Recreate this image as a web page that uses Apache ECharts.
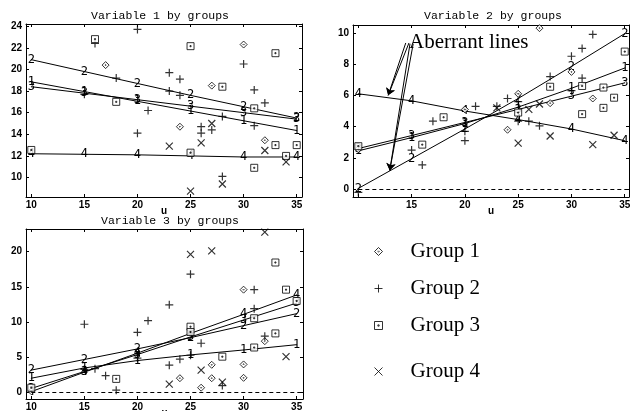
<!DOCTYPE html>
<html>
<head>
<meta charset="utf-8">
<script src="https://cdn.jsdelivr.net/npm/echarts@6/dist/echarts.min.js"></script>
<style>
html, body { margin: 0; background: #fff; }
#chart { width: 631px; height: 411px; }
</style>
</head>
<body>
<div id="chart"></div>
<script>
const groups = ['Group 1', 'Group 2', 'Group 3', 'Group 4']

// x positions where the fitted curves carry their group number
const fitX = [10, 15, 20, 25, 30, 35]

// tick values
const xTicks = [10, 15, 20, 25, 30, 35]
const xTicksV2 = [15, 20, 25, 30, 35]
const yTicksV1 = [10, 12, 14, 16, 18, 20, 22, 24]
const yTicksV2 = [0, 2, 4, 6, 8, 10]
const yTicksV3 = [0, 5, 10, 15, 20]

// Variable 1
const v1g1 = [[17, 20.4], [30, 22.3], [27, 18.5], [24, 14.7], [32, 13.45]]
const v1g2 = [[16, 22.4], [20, 23.7], [18, 19.2], [15, 17.7], [21, 16.2], [20, 14.1], [30, 20.5], [23, 19.7], [24, 19.1],
  [31, 18.1], [32, 16.9], [23, 18.0], [24, 17.6], [28, 15.65], [31, 14.8], [26, 14.7], [26, 14.1], [27, 14.4], [28, 10.1]]
const v1g3 = [[16, 22.8], [18, 17.0], [10, 12.55], [25, 22.15], [33, 21.5], [28, 18.4], [31, 16.4], [33, 13.0], [35, 13.0],
  [34, 12.0], [31, 10.9], [25, 12.3]]
const v1g4 = [[27, 15.0], [23, 12.9], [26, 13.2], [32, 12.5], [34, 11.45], [28, 9.4], [25, 8.75]]
const v1fit1 = [18.85, 17.95, 17.05, 16.15, 15.25, 14.35]
const v1fit2 = [20.9, 19.8, 18.7, 17.6, 16.55, 15.5]
const v1fit3 = [18.4, 17.8, 17.2, 16.6, 16.0, 15.4]
const v1fit4 = [12.2, 12.15, 12.1, 12.0, 11.9, 11.9]

// Variable 2
const v2g1 = [[27, 10.3], [30, 7.5], [32, 5.8], [24, 3.8], [25, 6.1], [10, 2.55], [20, 5.1], [28, 5.5]]
const v2g2 = [[32, 9.9], [31, 9.0], [30, 8.5], [28, 7.2], [31, 7.1], [30, 6.3], [24, 5.8], [25, 5.6], [26, 4.35], [27, 4.05],
  [25, 4.35], [21, 5.3], [20, 3.7], [20, 3.1], [17, 4.35], [15, 2.5], [16, 1.55], [10, -0.2], [23, 5.3]]
const v2g3 = [[35, 8.8], [28, 6.55], [31, 6.6], [33, 6.5], [34, 5.85], [33, 5.2], [31, 4.8], [25, 4.9], [18, 4.6], [16, 2.85], [10, 2.75]]
const v2g4 = [[25, 2.95], [28, 3.4], [32, 2.85], [34, 3.45], [26, 5.1], [27, 5.45], [23, 5.2]]
const v2fit1 = [2.45, 3.3, 4.2, 5.25, 6.45, 7.75]
const v2fit2 = [0.05, 1.95, 3.85, 5.8, 7.85, 9.95]
const v2fit3 = [2.6, 3.43, 4.27, 5.1, 5.95, 6.8]
const v2fit4 = [6.1, 5.65, 5.0, 4.45, 3.85, 3.1]

// Variable 3
const v3g1 = [[30, 14.6], [27, 3.95], [30, 4.0], [24, 2.05], [27, 2.05], [30, 2.1], [26, 0.7], [10, 0.2], [32, 7.3]]
const v3g2 = [[15, 9.7], [21, 10.2], [20, 8.55], [17, 2.4], [18, 0.35], [23, 12.45], [25, 16.8], [31, 14.6], [31, 11.9],
  [32, 8.0], [26, 7.0], [25, 5.3], [24, 4.75], [23, 3.9], [28, 1.0], [20, 4.9], [15, 3.3], [16, 3.4]]
const v3g3 = [[10, 0.7], [18, 1.95], [33, 18.45], [34, 14.6], [35, 13.0], [31, 10.55], [25, 9.35], [25, 8.6], [33, 8.4],
  [31, 6.4], [28, 5.1]]
const v3g4 = [[32, 22.75], [25, 19.6], [27, 20.1], [34, 5.1], [26, 3.2], [23, 1.2], [28, 1.5]]
const v3fit1 = [2.05, 3.5, 4.55, 5.35, 6.05, 6.8]
const v3fit2 = [3.2, 4.7, 6.2, 7.8, 9.5, 11.2]
const v3fit3 = [0.6, 3.0, 5.4, 7.9, 10.3, 12.7]
const v3fit4 = [0.15, 2.9, 5.6, 8.4, 11.1, 13.85]

// "Aberrant lines" arrows, in Variable 2 coordinates: [start, tip, curveness]
const arrows = [
  [[14.45, 9.35], [12.8, 6.0], 0.14],
  [[14.75, 9.35], [12.8, 6.0], 0.12],
  [[14.85, 9.3], [12.95, 1.2], 0.04],
  [[15.15, 9.3], [12.95, 1.2], 0.03]
]

const panels = [
  { grid: { left: 26, top: 24, width: 276, height: 173 }, x: [9.5, 35.5], y: [8.2, 24.2], xLabels: xTicks, yTicks: yTicksV1,
    data: [v1g1, v1g2, v1g3, v1g4], fits: [v1fit1, v1fit2, v1fit3, v1fit4], zero: false },
  { grid: { left: 353, top: 25, width: 276, height: 172 }, x: [9.5, 35.4], y: [-0.5, 10.5], xLabels: xTicksV2, yTicks: yTicksV2,
    data: [v2g1, v2g2, v2g3, v2g4], fits: [v2fit1, v2fit2, v2fit3, v2fit4], zero: true },
  { grid: { left: 26, top: 229, width: 277, height: 170 }, x: [9.5, 35.6], y: [-0.9, 23.2], xLabels: xTicks, yTicks: yTicksV3,
    data: [v3g1, v3g2, v3g3, v3g4], fits: [v3fit1, v3fit2, v3fit3, v3fit4], zero: true }
]

const symbols = [
  'path://M5,0L10,5L5,10L0,5Z M5,4.2L5.8,5L5,5.8L4.2,5Z',
  'path://M0,5L10,5M5,0L5,10',
  'path://M0,0H10V10H0Z M4.2,4.2H5.8V5.8H4.2Z',
  'path://M0,0L10,10M10,0L0,10'
]
const symbolSizes = [7, 8, 7, 7]
const hollow = { color: '#fff', borderColor: '#000', borderWidth: 1 }
const strokes = { color: 'rgba(0,0,0,0)', borderColor: '#000', borderWidth: 1.2 }
const symbolStyles = [hollow, strokes, hollow, strokes]

const tickFont = { fontFamily: 'Liberation Sans', fontSize: 10, fontWeight: 'bold', color: '#000' }
const axisLine = { show: true, onZero: false, lineStyle: { color: '#000', width: 1 } }

const xAxis = [], yAxis = [], series = []
panels.forEach((p, i) => {
  xAxis.push({
    gridIndex: i, type: 'value', min: p.x[0], max: p.x[1], position: 'bottom',
    axisLine, splitLine: { show: false },
    axisTick: { inside: true, length: 3, customValues: xTicks, lineStyle: { color: '#000' } },
    axisLabel: { customValues: p.xLabels, margin: 3, ...tickFont },
    name: 'u', nameLocation: 'middle', nameGap: 9, nameMoveOverlap: false, nameTextStyle: { ...tickFont }
  })
  yAxis.push({
    gridIndex: i, type: 'value', min: p.y[0], max: p.y[1], position: 'left',
    axisLine, splitLine: { show: false },
    axisTick: { inside: true, length: 3, customValues: p.yTicks, lineStyle: { color: '#000' } },
    axisLabel: { customValues: p.yTicks, margin: 4, ...tickFont }
  })
})
// top / right axes close the box and repeat the ticks
panels.forEach((p, i) => {
  xAxis.push({
    gridIndex: i, type: 'value', min: p.x[0], max: p.x[1], position: 'top',
    axisLine, splitLine: { show: false }, axisLabel: { show: false },
    axisTick: { inside: true, length: 3, customValues: xTicks, lineStyle: { color: '#000' } }
  })
  yAxis.push({
    gridIndex: i, type: 'value', min: p.y[0], max: p.y[1], position: 'right',
    axisLine, splitLine: { show: false }, axisLabel: { show: false },
    axisTick: { inside: true, length: 3, customValues: p.yTicks, lineStyle: { color: '#000' } }
  })
})

panels.forEach((p, i) => {
  p.fits.forEach((f, g) => series.push({
    type: 'line', name: 'fit ' + (g + 1), xAxisIndex: i, yAxisIndex: i,
    data: fitX.map((x, k) => [x, f[k]]),
    symbol: 'circle', symbolSize: 1, showSymbol: true, silent: true, z: 2,
    lineStyle: { color: '#000', width: 1 }, itemStyle: { color: '#000' },
    label: { show: true, formatter: String(g + 1), position: 'inside', color: '#000', fontFamily: 'DejaVu Sans Mono', fontSize: 12 }
  }))
  p.data.forEach((d, g) => series.push({
    type: 'scatter', name: groups[g], xAxisIndex: i, yAxisIndex: i, data: d,
    symbol: symbols[g], symbolSize: symbolSizes[g], itemStyle: symbolStyles[g], z: 3
  }))
  if (p.zero) series.push({
    type: 'line', name: 'zero', xAxisIndex: i, yAxisIndex: i, data: [],
    markLine: { silent: true, symbol: 'none', label: { show: false },
      lineStyle: { color: '#000', width: 1, type: [4, 3] },
      data: [[{ coord: [10, 0] }, { coord: [p.x[1] - 0.1, 0] }]] }
  })
})

series.push({
  type: 'line', name: 'arrows', xAxisIndex: 1, yAxisIndex: 1, data: [],
  markLine: { silent: true, symbol: ['none', 'arrow'], symbolSize: 7, label: { show: false },
    lineStyle: { color: '#000', width: 1, type: 'solid' },
    data: arrows.map(a => [{ coord: a[0], lineStyle: { curveness: a[2] } }, { coord: a[1] }]) }
})

const legendTops = [236, 273, 310, 356]
const legend = groups.map((g, i) => ({
  data: [g], left: 369, top: legendTops[i], orient: 'vertical', selectedMode: false,
  itemWidth: 8, itemHeight: 8,
  itemStyle: { borderWidth: 1 },
  textStyle: { fontFamily: 'Liberation Serif', fontSize: 21, color: '#000', padding: [0, 0, 0, 23] }
}))

const titleFont = { fontFamily: 'Liberation Mono', fontSize: 11.5, fill: '#000', align: 'center', verticalAlign: 'middle' }
const graphic = [
  { type: 'text', x: 160, y: 16, style: { text: 'Variable 1 by groups', ...titleFont } },
  { type: 'text', x: 493, y: 15.5, style: { text: 'Variable 2 by groups', ...titleFont } },
  { type: 'text', x: 170, y: 221, style: { text: 'Variable 3 by groups', ...titleFont } },
  { type: 'text', x: 409, y: 42, style: { text: 'Aberrant lines', fontFamily: 'Liberation Serif', fontSize: 21, fill: '#000', verticalAlign: 'middle' } }
]

const chart = echarts.init(document.getElementById('chart'))
chart.setOption({
  animation: false,
  backgroundColor: '#fff',
  grid: panels.map(p => ({ ...p.grid, outerBoundsMode: 'none' })),
  xAxis, yAxis, series, legend, graphic
})
</script>
</body>
</html>
